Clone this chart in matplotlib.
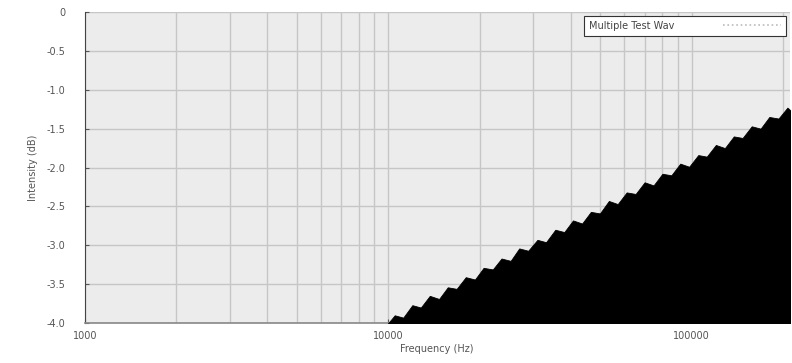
import matplotlib
matplotlib.use('Agg')
import matplotlib.pyplot as plt
from matplotlib.ticker import FixedLocator, LogLocator, NullFormatter

# Частоты (Гц) и уровень (дБ)
freq = [8000, 8600, 9200, 9800, 10500, 11200, 12000, 12800, 13700, 14700,
        15700, 16800, 18000, 19300, 20600, 22100, 23600, 25300, 27000, 28900,
        31000, 33100, 35500, 38000, 40600, 43500, 46500, 49800, 53300, 57000,
        61000, 65300, 69900, 74800, 80000, 85600, 91600, 98000, 105000, 112000,
        120000, 128500, 137500, 147000, 157500, 168500, 180000, 193000, 206500, 212000]
level = [-4.14, -4.17, -4.01, -4.04, -3.90, -3.93, -3.77, -3.80, -3.65, -3.69,
         -3.54, -3.56, -3.41, -3.44, -3.29, -3.31, -3.17, -3.20, -3.04, -3.07,
         -2.93, -2.96, -2.80, -2.83, -2.68, -2.72, -2.57, -2.59, -2.43, -2.47,
         -2.32, -2.34, -2.19, -2.23, -2.08, -2.10, -1.95, -1.99, -1.84, -1.86,
         -1.71, -1.75, -1.60, -1.62, -1.47, -1.50, -1.35, -1.37, -1.23, -1.27]

x_ticks = [1000, 10000, 100000]
x_labels = ['1000', '10000', '100000']
y_ticks = [0, -0.5, -1.0, -1.5, -2.0, -2.5, -3.0, -3.5, -4.0]
y_labels = ['0', '-0.5', '-1.0', '-1.5', '-2.0', '-2.5', '-3.0', '-3.5', '-4.0']

fig = plt.figure(figsize=(7.92, 3.63), dpi=100)
ax = fig.add_axes([0.107, 0.110, 0.890, 0.857])
ax.set_facecolor('#ececec')

ax.set_xscale('log')
ax.set_xlim(1000, 210000)
ax.set_ylim(-4.0, 0)

# Заливка под кривой
ax.fill_between(freq, level, -4.5, color='black', linewidth=0.6,
                edgecolor='black', zorder=3)
ax.plot([], [], linestyle=':', color='#bbbbbb', linewidth=1.2,
        label='Multiple Test Wav')

ax.xaxis.set_major_locator(FixedLocator(x_ticks))
ax.set_xticklabels(x_labels)
ax.xaxis.set_minor_locator(LogLocator(base=10, subs=range(2, 10)))
ax.xaxis.set_minor_formatter(NullFormatter())
ax.set_yticks(y_ticks)
ax.set_yticklabels(y_labels)

ax.grid(True, which='both', axis='x', color='#c6c6c6', linewidth=1.0, zorder=1)
ax.grid(True, which='major', axis='y', color='#c6c6c6', linewidth=1.0, zorder=1)
ax.set_axisbelow(True)

ax.tick_params(axis='both', which='both', labelsize=7, colors='#555555',
               length=3, direction='in')
ax.tick_params(axis='y', pad=14)
ax.tick_params(axis='x', pad=6)
ax.tick_params(axis='x', which='minor', length=0)
for s in ['top', 'right']:
    ax.spines[s].set_visible(False)
ax.spines['left'].set_color('#444444')
ax.spines['bottom'].set_color('#888888')
ax.spines['left'].set_linewidth(0.8)
ax.spines['bottom'].set_linewidth(1.2)

ax.set_xlabel('Frequency (Hz)', fontsize=7, color='#555555', labelpad=2)
ax.set_ylabel('Intensity (dB)', fontsize=7, color='#555555', labelpad=6)

leg = ax.legend(loc='upper right', fontsize=7, frameon=True, fancybox=False,
                borderaxespad=0.4, handlelength=6, markerfirst=False,
                borderpad=0.5, handletextpad=5)
leg.get_frame().set_edgecolor('#333333')
leg.get_frame().set_facecolor('white')
leg.get_frame().set_alpha(1)
leg.get_frame().set_linewidth(0.8)
for t in leg.get_texts():
    t.set_color('#444444')

fig.savefig('out.png', dpi=100)
